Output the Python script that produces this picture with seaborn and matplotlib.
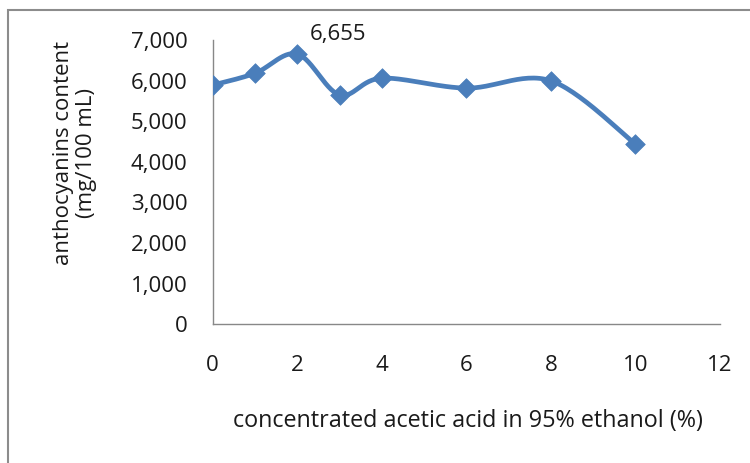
import numpy as np
import pandas as pd
import matplotlib
matplotlib.use("Agg")
import matplotlib.pyplot as plt
import seaborn as sns
from matplotlib.patches import Rectangle

# Data
acid_pct = [0, 1, 2, 3, 4, 6, 8, 10]
anthocyanins = [5890, 6180, 6655, 5650, 6060, 5815, 5995, 4440]
x_ticks = [0, 2, 4, 6, 8, 10, 12]
y_ticks = [0, 1000, 2000, 3000, 4000, 5000, 6000, 7000]
peak_label = "6,655"

sns.set_theme(style="white")
plt.rcParams['font.family'] = ['Open Sans', 'DejaVu Sans']

def catmull_rom(xs, ys, n=30):
    xs = np.asarray(xs, float); ys = np.asarray(ys, float)
    px = np.concatenate([[xs[0]], xs, [xs[-1]]])
    py = np.concatenate([[ys[0]], ys, [ys[-1]]])
    ox, oy = [], []
    for i in range(1, len(px) - 2):
        p0 = np.array([px[i-1], py[i-1]]); p1 = np.array([px[i], py[i]])
        p2 = np.array([px[i+1], py[i+1]]); p3 = np.array([px[i+2], py[i+2]])
        c1 = p1 + (p2 - p0) / 6.0
        c2 = p2 - (p3 - p1) / 6.0
        t = np.linspace(0, 1, n, endpoint=(i == len(px) - 3))[:, None]
        pts = (1-t)**3*p1 + 3*(1-t)**2*t*c1 + 3*(1-t)*t**2*c2 + t**3*p2
        ox.extend(pts[:, 0]); oy.extend(pts[:, 1])
    return np.array(ox), np.array(oy)

W, H = 750, 463
FS = 16
TXT = "#1a1a1a"
fig = plt.figure(figsize=(7.5, 4.63), dpi=100)
ax = fig.add_axes([212.7/W, (H-324.3)/H, (720-212.7)/W, (324.3-40)/H])

color = "#4A7EBB"
sx, sy = catmull_rom(acid_pct, anthocyanins)
smooth = pd.DataFrame({"x": sx, "y": sy})
sns.lineplot(data=smooth, x="x", y="y", sort=False, ax=ax, color=color,
             linewidth=3.4, estimator=None, zorder=2)
df = pd.DataFrame({"x": acid_pct, "y": anthocyanins})
sns.scatterplot(data=df, x="x", y="y", ax=ax, marker="D", s=100, color=color,
                edgecolor=color, linewidth=0.5, zorder=3)

ax.set_xlim(0, 12)
ax.set_ylim(0, 7000)
ax.set_xticks(x_ticks)
ax.set_yticks(y_ticks)
ax.set_xticklabels([str(v) for v in x_ticks])
ax.set_yticklabels([f"{v:,}" for v in y_ticks])
ax.tick_params(axis='x', length=0, pad=22, labelsize=FS, colors=TXT)
ax.tick_params(axis='y', length=0, pad=18, labelsize=FS, colors=TXT)
ax.set_xlabel("")
ax.set_ylabel("")
for s in ["top", "right"]:
    ax.spines[s].set_visible(False)
for s in ["left", "bottom"]:
    ax.spines[s].set_color("#888888")
    ax.spines[s].set_linewidth(1.0)
ax.grid(False)

imax = int(np.argmax(anthocyanins))
ax.annotate(peak_label, (acid_pct[imax], anthocyanins[imax]),
            xytext=(29.5, 14), textcoords="offset points", ha="center", va="center",
            fontsize=FS, color=TXT)

fig.text(468/W, 1 - 421/H, "concentrated acetic acid in 95% ethanol (%)",
         ha="center", va="center", fontsize=16.8, color=TXT)
fig.text(75/W, 1 - 153/H, "anthocyanins content\n(mg/100 mL)", rotation=90,
         ha="center", va="center", fontsize=FS, color=TXT, linespacing=1.15,
         multialignment="center")

fig.patches.append(Rectangle((8/W, -0.1), 1.2, (H-10)/H + 0.1, transform=fig.transFigure,
                             fill=False, edgecolor="#8c8c8c", linewidth=1.5))

fig.savefig("out.png", dpi=100)
